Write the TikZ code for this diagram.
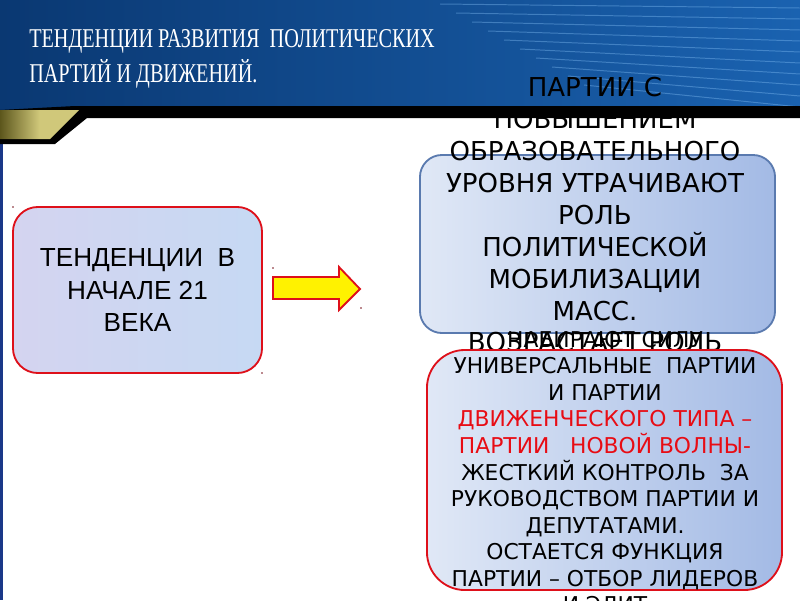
\documentclass[tikz,border=0pt]{standalone}
\usepackage{fontspec}
\setmainfont{DejaVu Sans}
\newfontfamily\titlefont[FakeStretch=0.745]{Liberation Serif}
\newfontfamily\leftfont{Liberation Sans}
\usetikzlibrary{shapes}
\definecolor{hdrdark}{RGB}{10,56,114}
\definecolor{hdrlight}{RGB}{26,98,176}
\definecolor{streak}{RGB}{130,190,245}
\definecolor{boxedge}{RGB}{90,122,175}
\definecolor{boxleft}{RGB}{224,232,246}
\definecolor{boxright}{RGB}{163,186,229}
\definecolor{edgered}{RGB}{222,16,26}
\definecolor{textred}{RGB}{232,12,20}
\definecolor{goldlight}{RGB}{208,200,122}
\definecolor{golddark}{RGB}{92,86,28}
\definecolor{stripnavy}{RGB}{26,56,136}
\definecolor{noisyblue}{RGB}{198,217,243}
\definecolor{noisypink}{RGB}{212,212,240}
\definecolor{dotred}{RGB}{120,20,30}

\begin{document}
\begin{tikzpicture}[x=0.025cm, y=-0.025cm,
    titletext/.style={text=white, font=\titlefont\fontsize{19.3}{24.7}\selectfont, align=left, inner sep=0pt},
    lefttext/.style={font=\leftfont\fontsize{18.6}{22.8}\selectfont, align=center},
    losstext/.style={font=\fontsize{18.5}{22.7}\selectfont, align=center, inner sep=0pt},
    gaintext/.style={font=\fontsize{15.5}{18.85}\selectfont, align=center, inner sep=0pt},
    softbox/.style={draw=edgered, line width=1.3pt, rounded corners=0.62cm, left color=noisypink, right color=noisyblue, minimum width=6.225cm, minimum height=4.15cm},
    bluebox/.style={draw=boxedge, line width=1.3pt, rounded corners=0.55cm, left color=boxleft, right color=boxright, minimum width=8.875cm, minimum height=4.45cm},
    redbox/.style={draw=edgered, line width=1.3pt, rounded corners=0.95cm, left color=boxleft, right color=boxright, minimum width=8.875cm, minimum height=6cm},
    blockarrow/.style={draw=edgered, fill=yellow, line width=1.3pt, line join=miter}]
  \clip (0,0) rectangle (800,600);
  \fill[white] (0,0) rectangle (800,600);
  \shade[left color=hdrdark, right color=hdrlight] (0,0) rectangle (800,110);
  \foreach \i in {0,...,9}
    \draw[streak, opacity=0.4, line width=0.7pt] (440+\i*16, 4+\i*9) -- (800, 8+\i*11);
  \node[titletext, anchor=north west] (title) at (29,29) {ТЕНДЕНЦИИ РАЗВИТИЯ\ \ ПОЛИТИЧЕСКИХ\\ПАРТИЙ И ДВИЖЕНИЙ.};
  \fill[stripnavy] (0,110) rectangle (3,600);

  \node[softbox, lefttext] (trend) at (137.5,290) {ТЕНДЕНЦИИ\ \ В\\НАЧАЛЕ 21\\ВЕКА};
  \draw[blockarrow] (273,277) -- (339,277) -- (339,267) -- (360,289) -- (339,310) -- (339,299) -- (273,299) -- cycle;

  \node[bluebox] (loss) at (597.5,244) {};
  \node[losstext, anchor=north] (losslines) at (595,77) {ПАРТИИ С\\ПОВЫШЕНИЕМ\\ОБРАЗОВАТЕЛЬНОГО\\УРОВНЯ УТРАЧИВАЮТ\\РОЛЬ\\ПОЛИТИЧЕСКОЙ\\МОБИЛИЗАЦИИ\\МАСС.\\ВОЗРАСТАЕТ РОЛЬ};

  \fill (75,106) -- (800,106) -- (800,118) -- (87,118) -- (55,144) -- (0,144) -- (0,110) -- cycle;
  \shade[left color=golddark, right color=goldlight, middle color=goldlight] (0,110) -- (79,110) -- (50,139) -- (0,139) -- cycle;

  \node[redbox] (gain) at (604.5,470) {};
  \node[gaintext, anchor=north] (gainlines) at (605,331) {НАБИРАЮТ СИЛУ\\УНИВЕРСАЛЬНЫЕ\ \ ПАРТИИ\\И ПАРТИИ\\
    \textcolor{textred}{ДВИЖЕНЧЕСКОГО ТИПА –}\\\textcolor{textred}{ПАРТИИ\ \ \ НОВОЙ ВОЛНЫ-}\\
    ЖЕСТКИЙ КОНТРОЛЬ\ \ ЗА\\РУКОВОДСТВОМ ПАРТИИ И\\ДЕПУТАТАМИ.\\ОСТАЕТСЯ ФУНКЦИЯ\\ПАРТИИ – ОТБОР ЛИДЕРОВ\\И ЭЛИТ};

  \foreach \p in {(13,207),(273,268),(361,308),(262,373)}
    \fill[dotred] \p circle (0.9);
\end{tikzpicture}
\end{document}
